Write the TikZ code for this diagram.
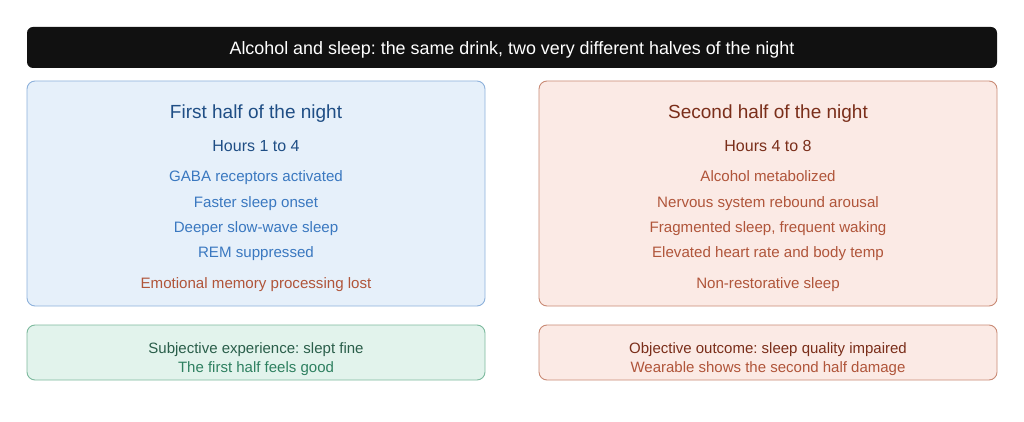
\documentclass[tikz,border=0pt]{standalone}
\usepackage{fontspec}
\setmainfont{Liberation Sans}
\frenchspacing
\definecolor{titlebg}{HTML}{111111}
\definecolor{bluefill}{HTML}{E6F0FA}
\definecolor{bluedraw}{HTML}{8DB1DB}
\definecolor{bluedark}{HTML}{1F4E85}
\definecolor{bluetext}{HTML}{3A78C0}
\definecolor{redfill}{HTML}{FBEAE5}
\definecolor{reddraw}{HTML}{C98A75}
\definecolor{reddark}{HTML}{7A2E1A}
\definecolor{redtext}{HTML}{B0553A}
\definecolor{greenfill}{HTML}{E2F3EC}
\definecolor{greendraw}{HTML}{7DBA9E}
\definecolor{greendark}{HTML}{2A5E4A}
\definecolor{greentext}{HTML}{2E8060}
\begin{document}
\begin{tikzpicture}[x=1pt,y=-1pt,
  panel/.style={rounded corners=8pt, line width=0.9pt},
  head/.style={font=\fontsize{19}{22}\selectfont\frenchspacing, anchor=base},
  sub/.style={font=\fontsize{16}{19}\selectfont\frenchspacing, anchor=base},
  item/.style={font=\fontsize{15.1}{17}\selectfont\frenchspacing, anchor=base},
  foot/.style={font=\fontsize{15}{17}\selectfont\frenchspacing, anchor=base}]
\useasboundingbox[fill=white] (0,0) rectangle (1024,422);
% title
\node[draw=none, fill=titlebg, rounded corners=6pt, minimum width=970pt, minimum height=41pt, inner sep=0pt] (title) at (512,47.5) {};
\node[text=white, font=\fontsize{17.9}{20}\selectfont\frenchspacing, anchor=base] (titletext) at (512,54.5) {Alcohol and sleep: the same drink, two very different halves of the night};
% panels
\node[panel, draw=bluedraw, fill=bluefill, minimum width=458pt, minimum height=225pt, inner sep=0pt] (left) at (256,193.5) {};
\node[panel, draw=reddraw, fill=redfill, minimum width=458pt, minimum height=225pt, inner sep=0pt] (right) at (768,193.5) {};
\node[panel, draw=greendraw, fill=greenfill, minimum width=458pt, minimum height=55pt, inner sep=0pt] (leftfoot) at (256,352.5) {};
\node[panel, draw=reddraw, fill=redfill, minimum width=458pt, minimum height=55pt, inner sep=0pt] (rightfoot) at (768,352.5) {};
% left text
\node[head, text=bluedark] (lh) at (256,118.5) {First half of the night};
\node[sub, text=bluedark] (ls) at (256,151.5) {Hours 1 to 4};
\node[item, text=bluetext] (l1) at (256,181.8) {GABA receptors activated};
\node[item, text=bluetext] (l2) at (256,207) {Faster sleep onset};
\node[item, text=bluetext] (l3) at (256,232.8) {Deeper slow-wave sleep};
\node[item, text=bluetext] (l4) at (256,257.8) {REM suppressed};
\node[item, text=redtext] (l5) at (256,288.3) {Emotional memory processing lost};
% right text
\node[head, text=reddark] (rh) at (768,118.5) {Second half of the night};
\node[sub, text=reddark] (rs) at (768,151.5) {Hours 4 to 8};
\node[item, text=redtext] (r1) at (768,181.8) {Alcohol metabolized};
\node[item, text=redtext] (r2) at (768,207) {Nervous system rebound arousal};
\node[item, text=redtext] (r3) at (768,232.8) {Fragmented sleep, frequent waking};
\node[item, text=redtext] (r4) at (768,257.8) {Elevated heart rate and body temp};
\node[item, text=redtext] (r5) at (768,288.3) {Non-restorative sleep};
% footers
\node[foot, text=greendark] (lf1) at (256,353.8) {Subjective experience: slept fine};
\node[foot, text=greentext] (lf2) at (256,372.8) {The first half feels good};
\node[foot, text=reddark] (rf1) at (768,353.8) {Objective outcome: sleep quality impaired};
\node[foot, text=redtext] (rf2) at (768,372.8) {Wearable shows the second half damage};
\end{tikzpicture}
\end{document}
